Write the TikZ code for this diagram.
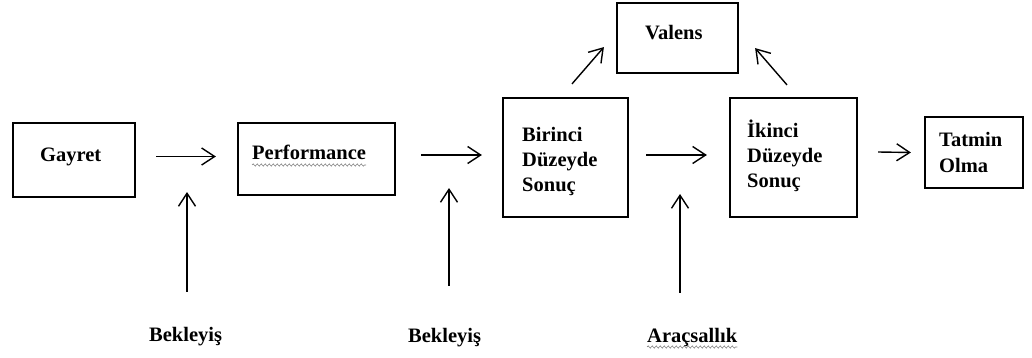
\documentclass[tikz,border=0pt]{standalone}
\usepackage{fontspec}
\setmainfont{Liberation Serif}
\usetikzlibrary{arrows.meta,decorations.pathmorphing,calc}
\begin{document}
\begin{tikzpicture}[x=1pt,y=-1pt,
  box/.style={draw,line width=2.2pt,inner sep=0pt},
  txt/.style={font=\fontsize{20.5}{25}\selectfont\bfseries,inner sep=0pt,anchor=base west},
  mtxt/.style={txt,text width=100pt,align=left},
  arr/.style={line width=1.4pt,-{Straight Barb[length=13pt,width=17pt,line width=1.4pt]}},
  wavy/.style={gray,line width=0.6pt,decorate,decoration={snake,amplitude=1.1pt,segment length=4pt}}]
\useasboundingbox (0,0) rectangle (1032,358);

% boxes
\node[box,minimum width=122pt,minimum height=74pt] (gay) at (74,160) {};
\node[box,minimum width=157pt,minimum height=72pt] (perf) at (316.5,159) {};
\node[box,minimum width=125pt,minimum height=119pt] (bir) at (565.5,157.5) {};
\node[box,minimum width=121pt,minimum height=70pt] (val) at (677.5,38) {};
\node[box,minimum width=127pt,minimum height=119pt] (iki) at (793.5,157.5) {};
\node[box,minimum width=98pt,minimum height=71pt] (tat) at (974,152.5) {};

% texts
\node[txt] (gayT) at (40,162) {Gayret};
\node[txt] (perfT) at (252,160) {Performance};
\node[mtxt] (birT) at (522,142) {Birinci\\Düzeyde\\Sonuç};
\node[txt] (valT) at (645,40) {Valens};
\node[mtxt] (ikiT) at (747,138) {İkinci\\Düzeyde\\Sonuç};
\node[mtxt] (tatT) at (939,147) {Tatmin\\Olma};
\node[txt] (bek1) at (149,341) {Bekleyiş};
\node[txt] (bek2) at (408,342) {Bekleyiş};
\node[txt] (arac) at (647,342) {Araçsallık};

% spell-check squiggles
\draw[wavy] ($(perfT.base west)+(0,5)$) -- ($(perfT.base east)+(0,5)$);
\draw[wavy] ($(arac.base west)+(0,5)$) -- ($(arac.base east)+(0,5)$);

% horizontal connectors
\draw[arr] ($(gay.east)+(20,-3.5)$) -- ($(perf.west)+(-21,-2.5)$);
\draw[arr] ($(perf.east)+(25,-4)$) -- ($(bir.west)+(-20,-2.5)$);
\draw[arr] ($(bir.east)+(17,-2.5)$) -- ($(iki.west)+(-22,-2.5)$);
\draw[arr] ($(iki.east)+(20,-5.5)$) -- ($(tat.west)+(-13,0)$);

% to Valens
\draw[arr] ($(bir.north)+(6.5,-13)$) -- ($(val.south west)+(-12,-27)$);
\draw[arr] ($(iki.north)+(-6.5,-12)$) -- ($(val.south east)+(16,-26)$);

% vertical connectors
\coordinate (t1) at (187,192);
\coordinate (t2) at (449,188);
\coordinate (t3) at (680,194);
\draw[arr] ($(t1 |- bek1.north)+(0,-35)$) -- (t1);
\draw[arr] ($(t2 |- bek2.north)+(0,-42)$) -- (t2);
\draw[arr] ($(t3 |- arac.north)+(0,-35)$) -- (t3);
\end{tikzpicture}
\end{document}
